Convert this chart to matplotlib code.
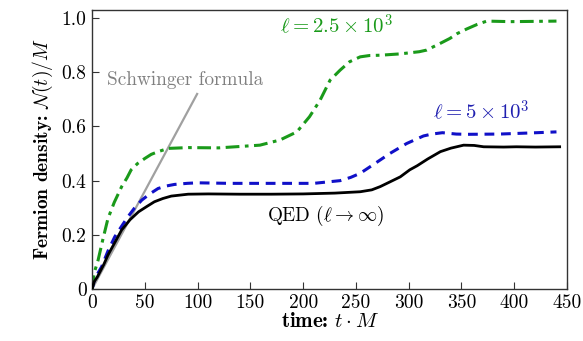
import numpy as np
import matplotlib
matplotlib.use('Agg')
import matplotlib.pyplot as plt

plt.rcParams['font.family'] = 'serif'
plt.rcParams['font.serif'] = ['cmr10']
plt.rcParams['mathtext.fontset'] = 'cm'
plt.rcParams['axes.unicode_minus'] = False

# QED (l -> inf)
t_qed = [0, 2, 5, 11, 15, 22, 28, 36, 44, 52, 59, 67, 75, 91, 110, 140, 170, 200, 230, 254, 265, 273, 282, 292, 301, 308, 318, 330, 340, 352, 362, 371, 390, 402, 420, 443]
n_qed = [0, 0.027, 0.045, 0.09, 0.125, 0.175, 0.218, 0.256, 0.285, 0.305, 0.322, 0.334, 0.343, 0.35, 0.351, 0.35, 0.35, 0.351, 0.354, 0.359, 0.366, 0.378, 0.395, 0.414, 0.44, 0.455, 0.48, 0.507, 0.52, 0.531, 0.53, 0.525, 0.524, 0.525, 0.524, 0.525]

# l = 5e3
t_5k = [0, 2, 5, 9, 15, 21.5, 28, 34, 40, 47, 55, 62.5, 70, 78, 90, 100, 130, 170, 210, 235, 245, 254, 266, 282, 298, 314, 322, 332, 345, 355, 386, 415, 440]
n_5k = [0, 0.03, 0.055, 0.082, 0.14, 0.193, 0.232, 0.267, 0.298, 0.328, 0.352, 0.371, 0.38, 0.386, 0.39, 0.392, 0.39, 0.39, 0.39, 0.40, 0.412, 0.427, 0.458, 0.50, 0.537, 0.565, 0.572, 0.577, 0.572, 0.571, 0.572, 0.576, 0.58]

# l = 2.5e3
t_25k = [0, 2, 5.7, 10, 15, 21, 28, 33, 37, 43, 50, 56, 62.5, 72, 91, 120, 159, 178, 194, 206, 216, 225.5, 235, 244, 254, 263, 273, 292, 310, 317, 330, 339, 346, 355, 365, 374, 396, 420, 440]
n_25k = [0, 0.06, 0.107, 0.18, 0.26, 0.32, 0.378, 0.41, 0.44, 0.463, 0.482, 0.497, 0.507, 0.519, 0.522, 0.521, 0.531, 0.55, 0.58, 0.636, 0.697, 0.771, 0.808, 0.839, 0.857, 0.862, 0.863, 0.868, 0.876, 0.882, 0.907, 0.925, 0.943, 0.96, 0.977, 0.989, 0.987, 0.988, 0.989]

# Schwinger formula (linear)
t_sch = [0, 99.5]
n_sch = [0, 0.72]

fig = plt.figure(figsize=(5.83, 3.41), dpi=100)
ax = fig.add_axes([0.158, 0.1525, 0.8146, 0.8182])

ax.plot(t_sch, n_sch, color='#a0a0a0', lw=1.6, zorder=1)
ax.plot(t_qed, n_qed, color='black', lw=2.0, zorder=3)
ax.plot(t_5k, n_5k, color='#1010c8', lw=2.2, ls=(0, (3.2, 2.2)), zorder=2)
ax.plot(t_25k, n_25k, color='#1a9a1a', lw=2.2, ls=(0, (4.5, 1.8, 1.2, 1.8)), zorder=2)

ax.text(14, 0.77, 'Schwinger formula', color='#808080', fontsize=13.8, va='center')
ax.text(178, 0.975, r'$\ell = 2.5\times10^3$', color='#1a9a1a', fontsize=15, va='center')
ax.text(323, 0.66, r'$\ell = 5\times10^3$', color='#2020b0', fontsize=15, va='center')
ax.text(166, 0.27, r'QED $(\ell\to\infty)$', color='black', fontsize=13.8, va='center')

ax.set_xlim(0, 450)
ax.set_ylim(0, 1.03)
ax.set_xticks(np.arange(0, 451, 50))
ax.set_yticks([0, 0.2, 0.4, 0.6, 0.8, 1.0])
ax.set_yticklabels(['0', '0.2', '0.4', '0.6', '0.8', '1.0'])
ax.tick_params(direction='in', length=5, width=0.8, labelsize=14, color='#333333', pad=4)
for s in ax.spines.values():
    s.set_color('#333333')
    s.set_linewidth(1.0)

ax.set_xlabel(r'time: $t\cdot M$', fontsize=15, labelpad=0, fontfamily='cmb10')
ax.set_ylabel(r'Fermion density: $\mathcal{N}(t)/M$', fontsize=14, labelpad=5, fontfamily='cmb10')

fig.savefig('out.png', dpi=100)
